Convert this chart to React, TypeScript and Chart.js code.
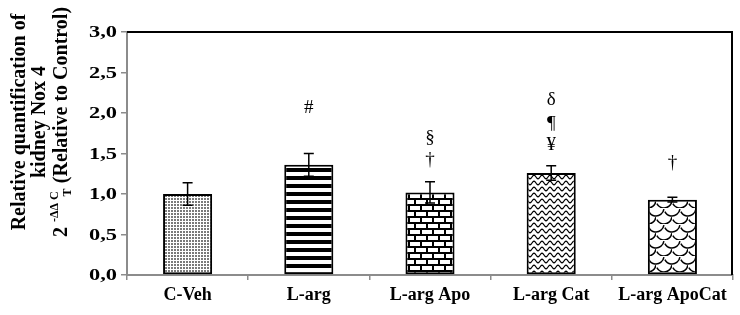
import React, { useEffect, useRef } from "react";
import { Chart, registerables } from "chart.js";

Chart.register(...registerables);

const categories = ["C-Veh", "L-arg", "L-arg Apo", "L-arg Cat", "L-arg ApoCat"];
const values = [1.0, 1.36, 1.02, 1.26, 0.93];
const errors = [0.14, 0.14, 0.13, 0.09, 0.03];
const yTicks = [0, 0.5, 1.0, 1.5, 2.0, 2.5, 3.0];
const yTickLabels = ["0,0", "0,5", "1,0", "1,5", "2,0", "2,5", "3,0"];
const significance: string[][] = [[], ["#"], ["§", "†"], ["δ", "¶", "¥"], ["†"]];
const yTitleLines = ["Relative quantification of", "kidney Nox 4"];
const yTitleFormula = { base: "2 ", sup: "-ΔΔ C", sub: "T", rest: " (Relative to Control)" };

// annotation heights in axis units (layout, not data)
const annotationLevels: number[][] = [[], [2.06], [1.69, 1.42], [2.16, 1.87, 1.6], [1.38]];

const FONT = "'Liberation Serif', 'Times New Roman', serif";

function makePattern(kind: string): CanvasPattern | string {
  const c = document.createElement("canvas");
  const ctx = c.getContext("2d")!;
  if (kind === "dots") {
    c.width = 3; c.height = 3;
    ctx.fillStyle = "#fff"; ctx.fillRect(0, 0, 3, 3);
    ctx.fillStyle = "#7a7a7a"; ctx.fillRect(0, 0, 2, 2);
  } else if (kind === "stripes") {
    c.width = 8; c.height = 8;
    ctx.fillStyle = "#fff"; ctx.fillRect(0, 0, 8, 8);
    ctx.fillStyle = "#000"; ctx.fillRect(0, 0, 8, 4);
  } else if (kind === "bricks") {
    c.width = 24; c.height = 12;
    ctx.fillStyle = "#fff"; ctx.fillRect(0, 0, 24, 12);
    ctx.fillStyle = "#000";
    ctx.fillRect(0, 0, 24, 2);
    ctx.fillRect(0, 6, 24, 2);
    ctx.fillRect(0, 0, 2, 6);
    ctx.fillRect(12, 0, 2, 6);
    ctx.fillRect(6, 6, 2, 6);
    ctx.fillRect(18, 6, 2, 6);
  } else if (kind === "waves") {
    c.width = 8; c.height = 6;
    ctx.fillStyle = "#fff"; ctx.fillRect(0, 0, 8, 6);
    ctx.strokeStyle = "#000"; ctx.lineWidth = 1.2;
    ctx.beginPath();
    for (let x = -1; x <= 9; x += 0.5) {
      const y = 3 + 1.8 * Math.sin((2 * Math.PI * x) / 8);
      if (x === -1) ctx.moveTo(x, y); else ctx.lineTo(x, y);
    }
    ctx.stroke();
  } else if (kind === "scales") {
    c.width = 16; c.height = 16;
    ctx.fillStyle = "#fff"; ctx.fillRect(0, 0, 16, 16);
    ctx.strokeStyle = "#000"; ctx.lineWidth = 1.5;
    const arcs = [[0, 0], [16, 0], [8, 8], [0, 16], [16, 16]];
    for (const [cx, cy] of arcs) {
      ctx.beginPath();
      ctx.arc(cx, cy, 8, 0.15, Math.PI * 0.85);
      ctx.stroke();
    }
  }
  const p = ctx.createPattern(c, "repeat");
  return p || "#ccc";
}

export default function App() {
  const ref = useRef<HTMLCanvasElement | null>(null);

  useEffect(() => {
    const canvas = ref.current!;
    const fills = ["dots", "stripes", "bricks", "waves", "scales"].map(makePattern);

    const framePlugin = {
      id: "frame",
      afterDraw(chart: any) {
        const { ctx, chartArea } = chart;
        ctx.save();
        ctx.strokeStyle = "#000";
        ctx.lineWidth = 2;
        ctx.beginPath();
        ctx.moveTo(chartArea.left, chartArea.top);
        ctx.lineTo(chartArea.right - 1, chartArea.top);
        ctx.lineTo(chartArea.right - 1, chartArea.bottom);
        ctx.stroke();
        ctx.restore();
      },
    };

    const errorPlugin = {
      id: "errorBars",
      afterDatasetsDraw(chart: any) {
        const { ctx } = chart;
        const ys = chart.scales.y;
        const meta = chart.getDatasetMeta(0);
        ctx.save();
        ctx.strokeStyle = "#000";
        ctx.lineWidth = 1.5;
        meta.data.forEach((bar: any, i: number) => {
          const x = bar.x;
          const top = ys.getPixelForValue(values[i] + errors[i]);
          const bot = ys.getPixelForValue(values[i] - errors[i]);
          ctx.beginPath();
          ctx.moveTo(x, top);
          ctx.lineTo(x, bot);
          ctx.moveTo(x - 5, top);
          ctx.lineTo(x + 5, top);
          ctx.moveTo(x - 5, bot);
          ctx.lineTo(x + 5, bot);
          ctx.stroke();
        });
        ctx.restore();
      },
    };

    const annotPlugin = {
      id: "annots",
      afterDatasetsDraw(chart: any) {
        const { ctx } = chart;
        const ys = chart.scales.y;
        const meta = chart.getDatasetMeta(0);
        ctx.save();
        ctx.fillStyle = "#000";
        ctx.font = `19px ${FONT}`;
        ctx.textAlign = "center";
        ctx.textBaseline = "middle";
        meta.data.forEach((bar: any, i: number) => {
          significance[i].forEach((s, j) => {
            ctx.fillText(s, bar.x, ys.getPixelForValue(annotationLevels[i][j]));
          });
        });
        ctx.restore();
      },
    };

    const yTickPlugin = {
      id: "yTickLabels",
      afterDraw(chart: any) {
        const { ctx } = chart;
        const ys = chart.scales.y;
        ctx.save();
        ctx.fillStyle = "#000";
        ctx.font = `bold 16px ${FONT}`;
        ctx.textAlign = "right";
        ctx.textBaseline = "middle";
        yTicks.forEach((v, i) => {
          ctx.save();
          ctx.translate(117, ys.getPixelForValue(v) + 1);
          ctx.scale(1.4, 1);
          ctx.fillText(yTickLabels[i], 0, 0);
          ctx.restore();
        });
        ctx.restore();
      },
    };

    const yTitlePlugin = {
      id: "yTitle",
      afterDraw(chart: any) {
        const { ctx } = chart;
        const cy = 122;
        const big = `bold 20px ${FONT}`;
        const small = `bold 12px ${FONT}`;
        ctx.save();
        ctx.fillStyle = "#000";
        ctx.textBaseline = "middle";
        const xs = [20, 40];
        yTitleLines.forEach((line, i) => {
          ctx.save();
          ctx.translate(xs[i], cy);
          ctx.rotate(-Math.PI / 2);
          ctx.font = big;
          ctx.textAlign = "center";
          ctx.fillText(line, 0, 0);
          ctx.restore();
        });
        // formula line
        ctx.save();
        ctx.translate(62, cy);
        ctx.rotate(-Math.PI / 2);
        ctx.textAlign = "left";
        ctx.font = big;
        const wBase = ctx.measureText(yTitleFormula.base).width;
        const wRest = ctx.measureText(yTitleFormula.rest).width;
        ctx.font = small;
        const wSup = ctx.measureText(yTitleFormula.sup).width;
        const wC = ctx.measureText("C").width;
        const wSub = ctx.measureText(yTitleFormula.sub).width;
        const total = wBase + wSup + wSub * 0.4 + wRest;
        let x = -total / 2;
        ctx.font = big;
        ctx.fillText(yTitleFormula.base, x, 0);
        x += wBase;
        ctx.font = small;
        ctx.fillText(yTitleFormula.sup, x, -7);
        x += wSup;
        ctx.fillText(yTitleFormula.sub, x - wC * 0.6, 6);
        x += wSub * 0.4;
        ctx.font = big;
        ctx.fillText(yTitleFormula.rest, x, 0);
        ctx.restore();
        ctx.restore();
      },
    };

    const chart = new Chart(canvas, {
      type: "bar",
      data: {
        labels: categories,
        datasets: [
          {
            data: values,
            backgroundColor: fills as any,
            borderColor: "#000",
            borderWidth: 2,
            borderSkipped: false,
            categoryPercentage: 1,
            barPercentage: 0.405,
          },
        ],
      },
      options: {
        animation: false,
        responsive: false,
        maintainAspectRatio: false,
        layout: { padding: { top: 32, right: 7, left: 0, bottom: 0 } },
        plugins: { legend: { display: false }, tooltip: { enabled: false } },
        scales: {
          x: {
            grid: {
              display: true,
              drawOnChartArea: false,
              drawTicks: true,
              tickLength: 5,
              color: "#8c8c8c",
              lineWidth: 1.5,
              offset: true,
            },
            border: { color: "#8c8c8c", width: 2 },
            ticks: {
              font: { family: FONT, size: 18, weight: "bold" },
              color: "#000",
              padding: 5,
              maxRotation: 0,
              autoSkip: false,
            },
            afterFit: (s: any) => {
              s.height = 40;
            },
          },
          y: {
            min: 0,
            max: 3,
            ticks: { stepSize: 0.5, color: "rgba(0,0,0,0)", font: { size: 16 } },
            grid: {
              drawOnChartArea: false,
              drawTicks: true,
              tickLength: 6,
              color: "#8c8c8c",
              lineWidth: 1.5,
            },
            border: { color: "#8c8c8c", width: 2 },
            afterFit: (s: any) => {
              s.width = 127;
            },
          },
        },
      },
      plugins: [framePlugin, errorPlugin, annotPlugin, yTickPlugin, yTitlePlugin],
    } as any);

    return () => chart.destroy();
  }, []);

  return (
    <div style={{ position: "fixed", left: 0, top: 0, width: 740, height: 315, background: "#fff" }}>
      <canvas ref={ref} width={740} height={315} />
    </div>
  );
}
